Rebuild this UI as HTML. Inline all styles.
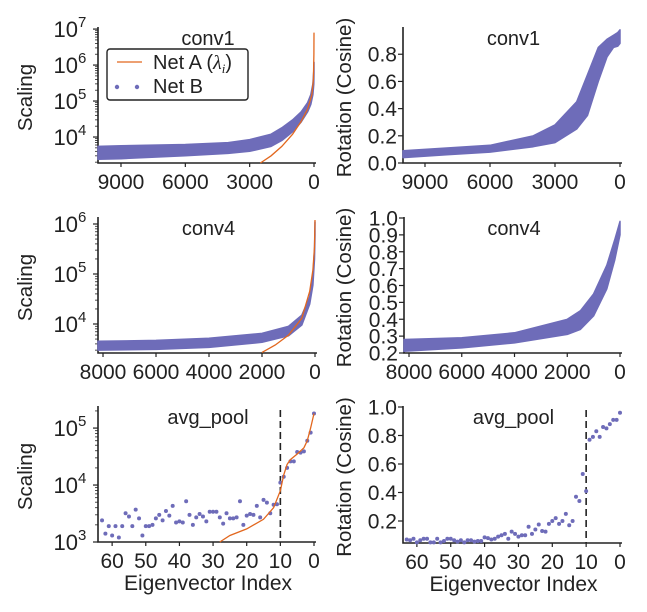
<!DOCTYPE html>
<html><head><meta charset="utf-8"><style>
body{margin:0;background:#fff}
svg{display:block;font-family:"Liberation Sans",Arial,sans-serif}
</style></head><body>
<svg id="fig" width="647" height="612" viewBox="0 0 647 612" xmlns="http://www.w3.org/2000/svg"></svg>
<script>
// ---- data ----
const c1sIdx = [10070, 9000, 6000, 4000, 3000, 2000, 1500, 1000, 600, 300, 150, 50, 10, 0];
const c1sLow = [2400, 2500, 3000, 3500, 4000, 5500, 8000, 14000, 26000, 50000, 80000, 150000, 300000, 600000];
const c1sHigh = [5500, 5700, 6200, 7000, 8500, 12000, 18000, 30000, 50000, 90000, 150000, 300000, 700000, 1200000];
const c1aIdx = [2500, 2000, 1500, 1000, 600, 300, 100, 30, 5, 0];
const c1aVal = [1900, 3000, 5500, 12000, 27000, 60000, 150000, 400000, 2000000, 8000000];
const c1rIdx = [10015, 8000, 6000, 4000, 3000, 2000, 1500, 1000, 600, 300, 100, 0];
const c1rLow = [0.04, 0.06, 0.08, 0.12, 0.15, 0.25, 0.35, 0.6, 0.78, 0.85, 0.86, 0.88];
const c1rHigh = [0.09, 0.11, 0.13, 0.2, 0.28, 0.45, 0.65, 0.85, 0.91, 0.94, 0.96, 0.98];
const c4sIdx = [8190, 6000, 4000, 2000, 1000, 500, 200, 80, 20, 0];
const c4sLow = [3000, 3100, 3400, 4300, 5800, 9500, 25000, 60000, 200000, 600000];
const c4sHigh = [4500, 4700, 5200, 6500, 9000, 15000, 35000, 90000, 300000, 1100000];
const c4aIdx = [2000, 1500, 1000, 500, 200, 80, 20, 0];
const c4aVal = [2700, 3800, 6000, 13000, 45000, 120000, 350000, 1200000];
const c4rIdx = [8190, 6000, 4000, 2000, 1500, 1000, 500, 200, 0];
const c4rLow = [0.21, 0.23, 0.26, 0.31, 0.34, 0.42, 0.58, 0.75, 0.9];
const c4rHigh = [0.28, 0.29, 0.32, 0.4, 0.45, 0.55, 0.72, 0.87, 0.98];
const apScale = [2400,1400,1900,1300,1900,1200,1900,3200,2800,1900,3700,2600,1300,1900,1900,2000,2600,3000,2400,3500,2900,4300,2200,2300,2200,5200,3000,2000,2700,3100,2800,2300,3400,3400,3400,2700,2100,3200,2600,2600,2700,5200,2000,2900,3100,3000,4300,2700,5500,4900,3200,4500,4600,11000,14000,20000,26000,26000,38000,37000,39000,60000,83000,180000];
const apAIdx = [28, 25, 20, 15, 12, 10, 9, 8, 7, 5, 3, 2, 1, 0];
const apAVal = [1000, 1300, 1700, 2500, 4000, 8000, 15000, 23000, 28000, 35000, 45000, 60000, 100000, 180000];
const apRot = [0.07,0.065,0.075,0.05,0.065,0.075,0.075,0.05,0.05,0.075,0.05,0.06,0.075,0.075,0.065,0.055,0.065,0.05,0.065,0.065,0.055,0.06,0.06,0.085,0.08,0.07,0.075,0.09,0.1,0.11,0.075,0.125,0.11,0.09,0.1,0.1,0.16,0.11,0.14,0.175,0.13,0.125,0.18,0.2,0.22,0.18,0.2,0.25,0.17,0.2,0.37,0.34,0.53,0.41,0.77,0.79,0.83,0.79,0.86,0.85,0.88,0.91,0.91,0.96];
const c1Ticks = [9000, 6000, 3000, 0];
const c4Ticks = [8000, 6000, 4000, 2000, 0];
const apTicks = [60, 50, 40, 30, 20, 10, 0];

const NS = "http://www.w3.org/2000/svg";
const svg = document.getElementById('fig');
const BLUE = "#6e6cb9", ORANGE = "#e2671e";
function mk(tag, attrs, parent) {
  const e = document.createElementNS(NS, tag);
  for (const k in attrs) e.setAttribute(k, attrs[k]);
  (parent || svg).appendChild(e);
  return e;
}
function panel(p) {
  const g = mk('g', {});
  
  
  const sx = v => p.px0 + (p.xd0 - v) / (p.xd0 - p.xd1) * (p.px1 - p.px0);
  const sy = v => { const t = p.log ? Math.log10(v) : v; return p.py0 - (t - p.yd0) / (p.yd1 - p.yd0) * (p.py0 - p.py1); };
  p.sx = sx; p.sy = sy; p.g = g;
  const ax = mk('path', {d: `M${p.px0},${p.py1-1}V${p.py0}H${p.px1+2}`, fill: 'none', stroke: '#222', 'stroke-width': 1.6}, g);
  
  
  p.xticks.forEach(v => {
    const x = sx(v);
    mk('line', {x1: x, x2: x, y1: p.py0, y2: p.py0 + 4, stroke: '#222', 'stroke-width': 1.2}, g);
    const t = mk('text', {x: x, y: p.py0 + 26, 'font-size': 21, 'text-anchor': 'middle', fill: '#222'}, g);
    t.textContent = v;
    
    
  });
  p.yticks.forEach(v => {
    const y = sy(p.log ? Math.pow(10, v) : v);
    mk('line', {x1: p.px0 - 5, x2: p.px0, y1: y, y2: y, stroke: '#222', 'stroke-width': 1.2}, g);
    if (p.log) {
      const t = mk('text', {x: p.px0 - 20, y: y + 8, 'font-size': 22, 'text-anchor': 'end', fill: '#222'}, g);
      t.textContent = '10';
      
      
      const t2 = mk('text', {x: p.px0 - 20, y: y - 2, 'font-size': 15, 'text-anchor': 'start', fill: '#222'}, g);
      t2.textContent = v;
      
      
    } else {
      const t = mk('text', {x: p.px0 - 6, y: y + 7.5, 'font-size': 21, 'text-anchor': 'end', fill: '#222'}, g);
      t.textContent = v.toFixed(1);
      
      
    }
  });
  if (p.log) {
    for (let d = Math.floor(p.yd0); d < p.yd1; d++) for (let m = 2; m < 10; m++) {
      const lv = d + Math.log10(m);
      if (lv < p.yd0 || lv > p.yd1) continue;
      const y = sy(Math.pow(10, lv));
      mk('line', {x1: p.px0 - 3, x2: p.px0, y1: y, y2: y, stroke: '#222', 'stroke-width': 0.8}, g);
    }
  }
  const tt = mk('text', {x: (p.px0 + p.px1) / 2 + 2, y: p.py1 + 17, 'font-size': 20, 'text-anchor': 'middle', fill: '#222'}, g);
  tt.textContent = p.title;
  
  
  const yt = mk('text', {x: 0, y: 0, 'font-size': 20.5, 'text-anchor': 'middle', fill: '#222', transform: `translate(${p.ytx},${(p.py0 + p.py1) / 2 + 2}) rotate(-90)`}, g);
  yt.textContent = p.ytitle;
  
  
  if (p.xtitle) {
    const xt = mk('text', {x: (p.px0 + p.px1) / 2 + 2, y: p.py0 + 48, 'font-size': 21, 'text-anchor': 'middle', fill: '#222'}, g);
    xt.textContent = p.xtitle;
    
    
  }
  return p;
}
function clampY(p, y) { return Math.max(p.py1, Math.min(p.py0, y)); }
function band(p, idx, lo, hi) {
  let d = '';
  idx.forEach((v, i) => { d += (i ? 'L' : 'M') + p.sx(v).toFixed(1) + ',' + clampY(p, p.sy(hi[i])).toFixed(1); });
  for (let i = idx.length - 1; i >= 0; i--) d += 'L' + p.sx(idx[i]).toFixed(1) + ',' + clampY(p, p.sy(lo[i])).toFixed(1);
  const e = mk('path', {d: d + 'Z', fill: BLUE, stroke: BLUE, 'stroke-width': 1.5, 'stroke-linejoin': 'round'}, p.g);
  
  
}
function line(p, idx, val) {
  const d = idx.map((v, i) => (i ? 'L' : 'M') + p.sx(v).toFixed(1) + ',' + clampY(p, p.sy(val[i])).toFixed(1)).join('');
  const e = mk('path', {d: d, fill: 'none', stroke: ORANGE, 'stroke-width': 1.3}, p.g);
  
  
}
function dots(p, vals) {
  vals.forEach((v, i) => {
    const idx = vals.length - 1 - i;
    const c = mk('circle', {cx: p.sx(idx), cy: p.sy(v), r: 2, fill: BLUE}, p.g);
    
    
  });
}
function vdash(p, v) {
  const e = mk('line', {x1: p.sx(v), x2: p.sx(v), y1: p.py1 + 3, y2: p.py0, stroke: '#222', 'stroke-width': 1.6, 'stroke-dasharray': '7,4'}, p.g);
  
  
}

const p1 = panel({name: 'conv1-scaling-panel', px0: 98, px1: 314, xd0: 10072, xd1: 0, py0: 163, py1: 28, log: true, yd0: 3.278, yd1: 7.03, xticks: c1Ticks, yticks: [4, 5, 6, 7], title: 'conv1', ytitle: 'Scaling', ytx: 32});
band(p1, c1sIdx, c1sLow, c1sHigh); line(p1, c1aIdx, c1aVal);
const p2 = panel({name: 'conv1-rotation-panel', px0: 403, px1: 620, xd0: 10015, xd1: 0, py0: 163, py1: 28, log: false, yd0: 0, yd1: 0.993, xticks: c1Ticks, yticks: [0, 0.2, 0.4, 0.6, 0.8], title: 'conv1', ytitle: 'Rotation (Cosine)', ytx: 351});
band(p2, c1rIdx, c1rLow, c1rHigh);
const p3 = panel({name: 'conv4-scaling-panel', px0: 98, px1: 315, xd0: 8189, xd1: 0, py0: 353, py1: 218, log: true, yd0: 3.42, yd1: 6.12, xticks: c4Ticks, yticks: [4, 5, 6], title: 'conv4', ytitle: 'Scaling', ytx: 32});
band(p3, c4sIdx, c4sLow, c4sHigh); line(p3, c4aIdx, c4aVal);
const p4 = panel({name: 'conv4-rotation-panel', px0: 404, px1: 620, xd0: 8190, xd1: 0, py0: 353, py1: 218, log: false, yd0: 0.2, yd1: 1.0, xticks: c4Ticks, yticks: [0.2, 0.3, 0.4, 0.5, 0.6, 0.7, 0.8, 0.9, 1.0], title: 'conv4', ytitle: 'Rotation (Cosine)', ytx: 351});
band(p4, c4rIdx, c4rLow, c4rHigh);
const p5 = panel({name: 'avgpool-scaling-panel', px0: 98, px1: 314, xd0: 64.2, xd1: 0, py0: 542, py1: 407, log: true, yd0: 3, yd1: 5.37, xticks: apTicks, yticks: [3, 4, 5], title: 'avg_pool', ytitle: 'Scaling', ytx: 32, xtitle: 'Eigenvector Index'});
vdash(p5, 10); dots(p5, apScale); line(p5, apAIdx, apAVal);
const p6 = panel({name: 'avgpool-rotation-panel', px0: 403, px1: 620, xd0: 64.1, xd1: 0, py0: 543, py1: 407, log: false, yd0: 0.0456, yd1: 1.0, xticks: apTicks, yticks: [0.2, 0.4, 0.6, 0.8, 1.0], title: 'avg_pool', ytitle: 'Rotation (Cosine)', ytx: 351, xtitle: 'Eigenvector Index'});
vdash(p6, 10); dots(p6, apRot);

const lg = mk('g', {});


mk('rect', {x: 107, y: 49, width: 141, height: 51, rx: 3, fill: '#fff', stroke: '#222', 'stroke-width': 1.4}, lg);
mk('line', {x1: 117, x2: 142, y1: 62, y2: 62, stroke: ORANGE, 'stroke-width': 1.3}, lg);
const l1 = mk('text', {x: 153, y: 69, 'font-size': 20, fill: '#222'}, lg);
l1.textContent = 'Net A (';
const li = mk('tspan', {'font-family': '"Liberation Serif",serif', 'font-style': 'italic'}, l1); li.textContent = 'λ';
const ls = mk('tspan', {'font-family': '"Liberation Serif",serif', 'font-style': 'italic', 'font-size': 13, dy: 4}, l1); ls.textContent = 'i';
const lc = mk('tspan', {dy: -4}, l1); lc.textContent = ')';


mk('circle', {cx: 117, cy: 87, r: 2.2, fill: BLUE}, lg);
mk('circle', {cx: 137, cy: 87, r: 2.2, fill: BLUE}, lg);
const l2 = mk('text', {x: 153, y: 93, 'font-size': 20, fill: '#222'}, lg);
l2.textContent = 'Net B';


</script>
</body></html>
